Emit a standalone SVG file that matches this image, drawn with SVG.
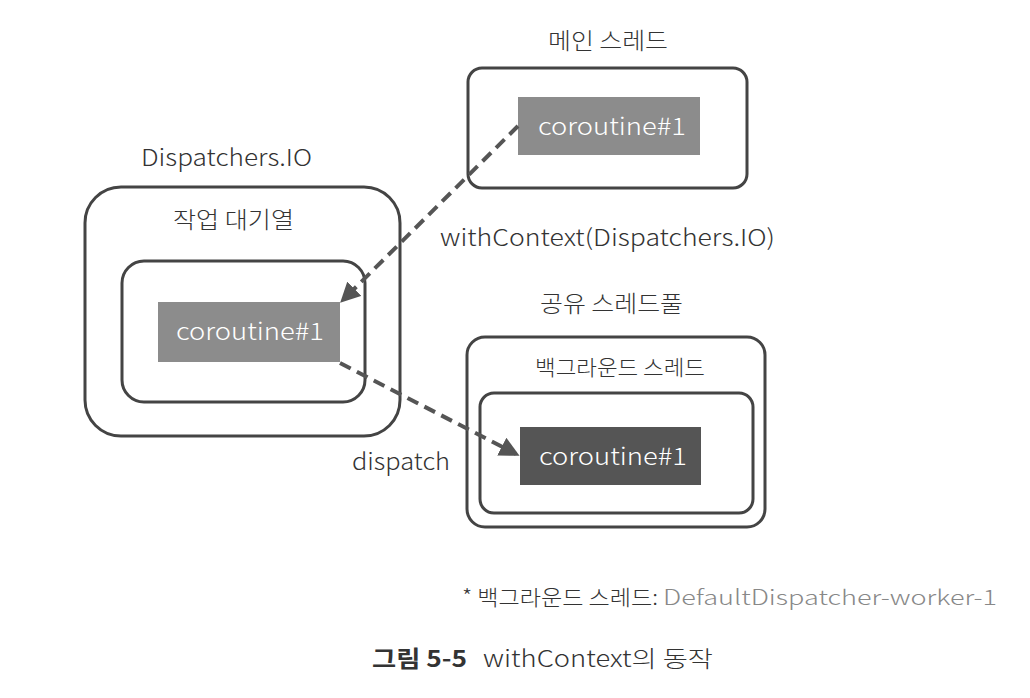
<svg xmlns="http://www.w3.org/2000/svg" width="1030" height="698" viewBox="0 0 1030 698">
<style>
text{font-family:"Noto Sans CJK KR","Noto Sans",sans-serif;fill:#333;font-weight:300;}
.box{fill:none;stroke:#444;stroke-width:3;}
.co{fill:#8c8c8c;}
.cod{fill:#555;}
.ct{fill:#fff;font-size:24px;}
.lbl{font-size:23px;}
.conn{fill:none;stroke:#555;stroke-width:4;stroke-dasharray:12 7;}
</style>
<defs>
<marker id="ah" markerWidth="5" markerHeight="5" refX="4" refY="2.5" orient="auto" markerUnits="strokeWidth">
<path d="M0,0 L5,2.5 L0,5 Z" fill="#555"/>
</marker>
</defs>
<rect width="1030" height="698" fill="#fff"/>
<g id="main-thread">
<text class="lbl" x="548" y="49" textLength="120" lengthAdjust="spacingAndGlyphs">메인 스레드</text>
<rect class="box" x="468" y="68" width="279" height="120" rx="14"/>
<rect class="co" x="518" y="97" width="182" height="58"/>
<text class="ct" x="538" y="135" textLength="148" lengthAdjust="spacingAndGlyphs">coroutine#1</text>
</g>
<g id="dispatchers-io">
<text class="lbl" x="141" y="166" textLength="171" lengthAdjust="spacingAndGlyphs">Dispatchers.IO</text>
<rect class="box" x="85" y="187" width="315" height="249" rx="36"/>
<text class="lbl" x="173" y="228" textLength="121" lengthAdjust="spacingAndGlyphs">작업 대기열</text>
<rect class="box" x="122" y="261" width="243" height="141" rx="22"/>
<rect class="co" x="158" y="302" width="182" height="60"/>
<text class="ct" x="176" y="340" textLength="148" lengthAdjust="spacingAndGlyphs">coroutine#1</text>
</g>
<g id="shared-pool">
<text class="lbl" x="540" y="312" textLength="143" lengthAdjust="spacingAndGlyphs">공유 스레드풀</text>
<rect class="box" x="467" y="337" width="298" height="190" rx="18"/>
<text x="535" y="375" textLength="170" lengthAdjust="spacingAndGlyphs" style="font-size:21px">백그라운드 스레드</text>
<rect class="box" x="480" y="393" width="273" height="120" rx="14"/>
<rect class="cod" x="520" y="427" width="181" height="58"/>
<text class="ct" x="539" y="465" textLength="148" lengthAdjust="spacingAndGlyphs">coroutine#1</text>
</g>
<g id="connectors">
<path class="conn" d="M518,126 L343,300" marker-end="url(#ah)"/>
<path class="conn" d="M340,363 L516,454" marker-end="url(#ah)"/>
<text x="440" y="246" textLength="335" lengthAdjust="spacingAndGlyphs" style="font-size:23px">withContext(Dispatchers.IO)</text>
<text x="352" y="470" textLength="98" lengthAdjust="spacingAndGlyphs" style="font-size:23px">dispatch</text>
</g>
<g id="notes">
<text x="462" y="605" textLength="196" lengthAdjust="spacingAndGlyphs" style="font-size:21px">* 백그라운드 스레드:</text>
<text x="663" y="605" textLength="334" lengthAdjust="spacingAndGlyphs" style="font-size:21px;fill:#888">DefaultDispatcher-worker-1</text>
<text x="372" y="667" textLength="95" lengthAdjust="spacingAndGlyphs" style="font-size:23px;font-weight:bold">그림 5-5</text>
<text x="483" y="667" textLength="230" lengthAdjust="spacingAndGlyphs" style="font-size:23px">withContext의 동작</text>
</g>
</svg>
